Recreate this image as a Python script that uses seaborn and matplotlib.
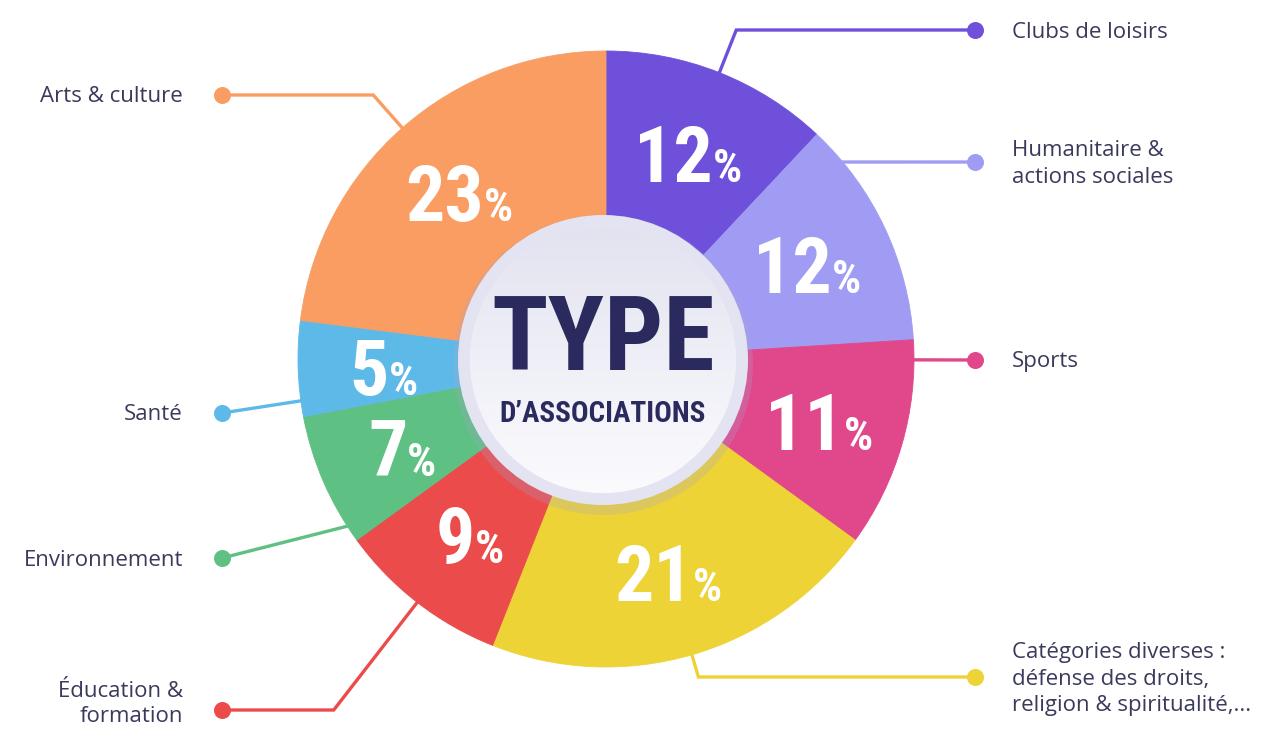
import numpy as np
import matplotlib
matplotlib.use("Agg")
import matplotlib.pyplot as plt
import seaborn as sns
from matplotlib import font_manager
from matplotlib.patches import Circle
from matplotlib.colors import LinearSegmentedColormap

# data (clockwise from top)
categories = ["Clubs de loisirs", "Humanitaire &\nactions sociales", "Sports",
              "Catégories diverses :\ndéfense des droits,\nreligion & spiritualité,...",
              "Éducation &\nformation", "Environnement", "Santé", "Arts & culture"]
shares = [12, 12, 11, 21, 9, 7, 5, 23]
colors = ["#6E50DB", "#A09CF4", "#E1478B", "#EDD336", "#EB4B4B", "#5EC083", "#5DB9E8", "#F99D63"]

# layout (pixels): dot of each leader line, text side
dot_xy = [(975, 30), (975, 162), (975, 360), (975, 677),
          (222, 710), (222, 558), (222, 413), (222, 95)]
text_side = ["right", "right", "right", "right", "left", "left", "left", "left"]

sns.set_theme(style="white")

names = {f.name for f in font_manager.fontManager.ttflist}


def pick(*cands):
    for c in cands:
        if c in names:
            return c
    return "DejaVu Sans"


narrow = pick("Liberation Sans Narrow", "Roboto Condensed", "Open Sans Condensed", "Roboto")
label_font = pick("Open Sans", "Noto Sans", "DejaVu Sans")
plt.rcParams["font.family"] = [label_font, "DejaVu Sans"]

fig = plt.figure(figsize=(12.68, 7.32), dpi=100)
ax = fig.add_axes([0, 0, 1, 1])

cx, cy, R = 606, 359, 308

# pie in pixel coords (y axis inverted, so counterclock in data = clockwise on screen)
wedges, _ = ax.pie(shares, colors=colors, startangle=-90, counterclock=True,
                   center=(cx, cy), radius=R, frame=True,
                   wedgeprops=dict(linewidth=0.6))
for w, c in zip(wedges, colors):
    w.set_edgecolor(c)

# wedge angles, measured clockwise from top
ends = np.cumsum(shares) / 100 * 360
starts = ends - np.array(shares) / 100 * 360
mids = (starts + ends) / 2


def pt(angle, r):
    a = np.radians(angle)
    return cx + r * np.sin(a), cy - r * np.cos(a)


def leader(i):
    dx, dy = dot_xy[i]
    # 1) radial spoke from the wedge middle, then horizontal to the dot
    ex, ey = pt(mids[i], R - 2)
    cosv = -np.cos(np.radians(mids[i]))
    if abs(cosv) > 1e-6:
        t = (dy - cy) / cosv
        if 10 < t - R < 140:
            kx, ky = pt(mids[i], t)
            if (dx - kx) * (dx - ex) > 0 and abs(dx - kx) > 30:
                return [(ex, ey), (kx, ky), (dx, dy)]
    # 2) point of the arc (inside the wedge) nearest in height to the dot
    angs = np.linspace(starts[i] + 3, ends[i] - 3, 400)
    px, py = pt(angs, R - 2)
    j = np.argmin(np.abs(py - dy))
    if abs(py[j] - dy) < 0.6 * abs(px[j] - dx):
        return [(px[j], py[j]), (dx, dy)]
    # 3) diagonal then horizontal
    sgn = 1 if dx > ex else -1
    kx = ex + sgn * abs(dy - ey) * 0.8
    return [(ex, ey), (kx, dy), (dx, dy)]


# leader lines, dots and category labels
for i, cat in enumerate(categories):
    col = colors[i]
    dx, dy = dot_xy[i]
    xs, ys = zip(*leader(i))
    ax.plot(xs, ys, color=col, lw=2.4, solid_capstyle="round", solid_joinstyle="miter", zorder=3)
    ax.scatter([dx], [dy], s=150, color=col, zorder=4, linewidths=0)
    if text_side[i] == "right":
        ax.text(1012, dy + 2, cat, ha="left", va="center", fontsize=16, color="#3A3A5C",
                linespacing=1.35, zorder=5)
    else:
        off = 2 if "\n" not in cat else -6
        ax.text(183, dy + off, cat, ha="right", va="center", fontsize=16, color="#3A3A5C",
                linespacing=1.25, zorder=5)

# center disc with soft shadow and gradient
ccx, ccy = 603, 360
ax.add_patch(Circle((ccx, ccy + 5), 150, color="#a9a6cc", alpha=0.25, lw=0, zorder=5))
ax.add_patch(Circle((ccx, ccy), 145, color="#E4E3F1", lw=0, zorder=6))
inner = Circle((ccx, ccy), 133, color="#F3F3F9", lw=0, zorder=7)
ax.add_patch(inner)
cmap = LinearSegmentedColormap.from_list("disc", ["#E3E3F0", "#FBFBFE"])
grad = np.linspace(0, 1, 256).reshape(-1, 1)
im = ax.imshow(grad, cmap=cmap, extent=(ccx - 133, ccx + 133, ccy + 133, ccy - 133),
               aspect="auto", zorder=8)
im.set_clip_path(inner)

ax.text(ccx, 342, "TYPE", ha="center", va="center", fontsize=75, fontweight="bold",
        family=[narrow, "DejaVu Sans"], color="#2A2A5E", zorder=9)
ax.text(ccx, 414, "D’ASSOCIATIONS", ha="center", va="center", fontsize=21, fontweight="bold",
        family=[narrow, "DejaVu Sans"], color="#2A2A5E", zorder=9)

# percentage labels: big number + smaller % sign, centred together
nums, pcts, anchors = [], [], []
for i, v in enumerate(shares):
    x, y = pt(mids[i], 222)
    n = ax.text(x, y, str(v), ha="left", va="baseline", fontsize=56, fontweight="bold",
                family=[narrow, "DejaVu Sans"], color="white", zorder=4)
    p = ax.text(x, y, "%", ha="left", va="baseline", fontsize=33, fontweight="bold",
                family=[narrow, "DejaVu Sans"], color="white", zorder=4)
    nums.append(n)
    pcts.append(p)
    anchors.append((x, y))

ax.set_xlim(0, 1268)
ax.set_ylim(732, 0)
ax.set_aspect("equal")
ax.axis("off")

fig.canvas.draw()
rend = fig.canvas.get_renderer()
for n, p, (x, y) in zip(nums, pcts, anchors):
    wn = n.get_window_extent(rend).width
    wp = p.get_window_extent(rend).width
    left = x - (wn + wp) / 2
    n.set_position((left, y + 29))
    p.set_position((left + wn, y + 29))

fig.savefig("out.png", dpi=100, facecolor="white")
